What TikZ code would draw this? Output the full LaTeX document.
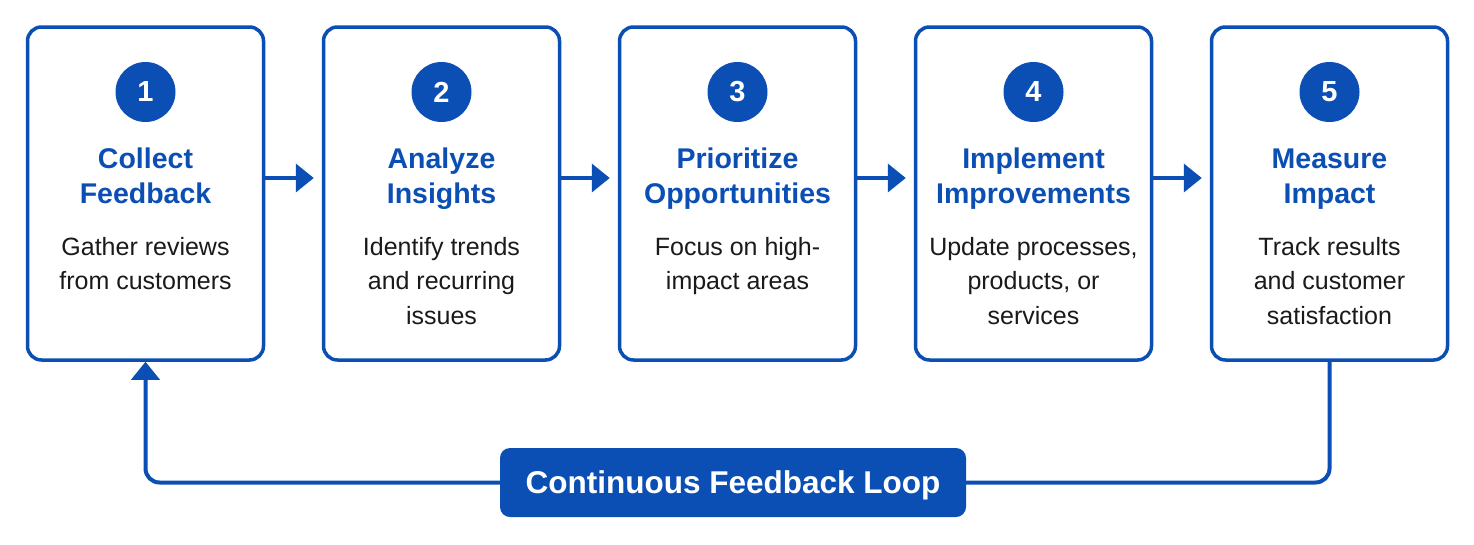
\documentclass[tikz,border=0pt]{standalone}
\usepackage{fontspec}
\setmainfont{Liberation Sans}
\usetikzlibrary{arrows.meta}
\definecolor{loopblue}{HTML}{0B4FB4}
\definecolor{inkgray}{HTML}{1A1A1A}

\begin{document}
\begin{tikzpicture}[x=1pt,y=-1pt,
  stage/.style={draw=loopblue, line width=3.5pt, rounded corners=14pt, fill=white,
    minimum width=236pt, minimum height=333pt},
  badge/.style={circle, fill=loopblue, minimum size=60pt, inner sep=0pt, text=white,
    font=\fontsize{29}{29}\selectfont\bfseries},
  heading/.style={text=loopblue, align=center, anchor=base, inner sep=0pt,
    font=\fontsize{28.5}{35}\selectfont\bfseries},
  blurb/.style={text=inkgray, align=center, anchor=base, inner sep=0pt,
    font=\fontsize{25}{34.5}\selectfont},
  looptag/.style={fill=loopblue, rounded corners=10pt, minimum width=466pt,
    minimum height=69pt, inner sep=0pt, text depth=0pt, text=white,
    font=\fontsize{31.5}{31.5}\selectfont\bfseries},
  flow/.style={draw=loopblue, line width=4pt, -{Triangle[length=18pt,width=28pt]}},
  loopline/.style={draw=loopblue, line width=4pt, rounded corners=14pt}]
\fill[white] (0,0) rectangle (1474,544);
\useasboundingbox (0,0) rectangle (1474,544);
% stages (text nodes sit on the baseline of their last line)
\node[stage] (s1) at (145.5,193.5) {};
\node[badge] (b1) at (145.5,92) {1};
\node[heading] (h1) at (145.5,203) {Collect\\Feedback};
\node[blurb] (d1) at (145.5,289.5) {Gather reviews\\from customers};
\node[stage] (s2) at (441.5,193.5) {};
\node[badge] (b2) at (441.5,92) {2};
\node[heading] (h2) at (441.5,203) {Analyze\\Insights};
\node[blurb] (d2) at (441.5,324) {Identify trends\\and recurring\\issues};
\node[stage] (s3) at (737.5,193.5) {};
\node[badge] (b3) at (737.5,92) {3};
\node[heading] (h3) at (737.5,203) {Prioritize\\Opportunities};
\node[blurb] (d3) at (737.5,289.5) {Focus on high-\\impact areas};
\node[stage] (s4) at (1033.5,193.5) {};
\node[badge] (b4) at (1033.5,92) {4};
\node[heading] (h4) at (1033.5,203) {Implement\\Improvements};
\node[blurb] (d4) at (1033.5,324) {Update processes,\\products, or\\services};
\node[stage] (s5) at (1329.5,193.5) {};
\node[badge] (b5) at (1329.5,92) {5};
\node[heading] (h5) at (1329.5,203) {Measure\\Impact};
\node[blurb] (d5) at (1329.5,324) {Track results\\and customer\\satisfaction};
% arrows between stages
\draw[flow, shorten >=8pt] ([yshift=15.5pt]s1.east) -- ([yshift=15.5pt]s2.west);
\draw[flow, shorten >=8pt] ([yshift=15.5pt]s2.east) -- ([yshift=15.5pt]s3.west);
\draw[flow, shorten >=8pt] ([yshift=15.5pt]s3.east) -- ([yshift=15.5pt]s4.west);
\draw[flow, shorten >=8pt] ([yshift=15.5pt]s4.east) -- ([yshift=15.5pt]s5.west);
% loop back
\node[looptag] (lp) at (733,482.5) {Continuous Feedback Loop};
\draw[loopline] (s5.south) |- (lp.east);
\draw[flow, rounded corners=14pt] (lp.west) -| (s1.south);
\end{tikzpicture}
\end{document}
